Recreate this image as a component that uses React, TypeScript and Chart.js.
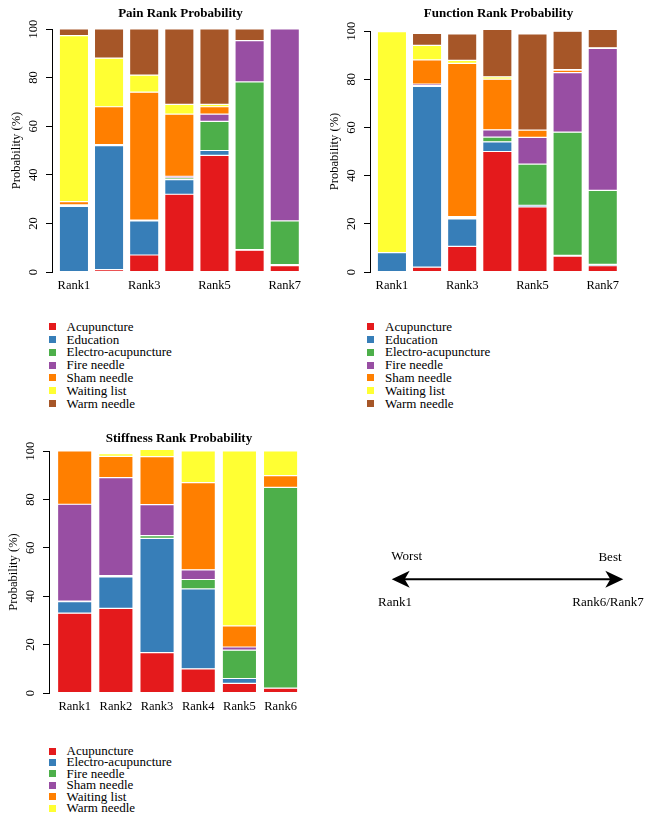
import React, { useEffect, useRef } from 'react';
import { Chart, registerables } from 'chart.js';

Chart.register(...registerables);

const FONT = '"Liberation Serif", "Times New Roman", serif';
const COLORS = ['#E41A1C', '#377EB8', '#4DAF4A', '#984EA3', '#FF7F00', '#FFFF33', '#A65628'];

const Y_TICKS = [0, 20, 40, 60, 80, 100];
const Y_TITLE = 'Probability (%)';

// ---------- Pain ----------
const PAIN_CATEGORIES = ['Rank1', 'Rank2', 'Rank3', 'Rank4', 'Rank5', 'Rank6', 'Rank7'];
const PAIN_TICK_LABELS = ['Rank1', '', 'Rank3', '', 'Rank5', '', 'Rank7'];
const PAIN_TREATMENTS = ['Acupuncture', 'Education', 'Electro-acupuncture', 'Fire needle', 'Sham needle', 'Waiting list', 'Warm needle'];
const PAIN_ACUPUNCTURE = [0, 1, 7, 32, 48, 9, 2.6];
const PAIN_EDUCATION = [27, 51, 14, 6, 2, 0.2, 0.4];
const PAIN_ELECTRO = [0.3, 0.2, 0.2, 0.7, 12, 69, 18];
const PAIN_FIRE = [0.3, 0.2, 0.2, 0.7, 3, 17, 79];
const PAIN_SHAM = [1.4, 15.6, 52.6, 25.6, 3, 0, 0];
const PAIN_WAITING = [68.3, 20, 7, 4, 1, 0, 0];
const PAIN_WARM = [2.7, 12, 19, 31, 31, 4.8, 0];

// ---------- Function ----------
const FUNC_CATEGORIES = ['Rank1', 'Rank2', 'Rank3', 'Rank4', 'Rank5', 'Rank6', 'Rank7'];
const FUNC_TICK_LABELS = ['Rank1', '', 'Rank3', '', 'Rank5', '', 'Rank7'];
const FUNC_TREATMENTS = ['Acupuncture', 'Education', 'Electro-acupuncture', 'Fire needle', 'Sham needle', 'Waiting list', 'Warm needle'];
const FUNC_ACUPUNCTURE = [0, 2, 10.6, 50, 27, 6.6, 2.6];
const FUNC_EDUCATION = [8, 75, 11.4, 4, 0.7, 0.3, 0.6];
const FUNC_ELECTRO = [0, 0.3, 0.5, 2, 17.1, 51.1, 30.7];
const FUNC_FIRE = [0, 0.7, 0.5, 3, 11.1, 24.7, 58.9];
const FUNC_SHAM = [0, 10, 63.6, 21, 3, 1.1, 0.2];
const FUNC_WAITING = [91.7, 6, 1.2, 1, 0, 0.2, 0];
const FUNC_WARM = [0, 5, 11, 19.7, 39.9, 15.9, 7.7];

// ---------- Stiffness ----------
const STIFF_CATEGORIES = ['Rank1', 'Rank2', 'Rank3', 'Rank4', 'Rank5', 'Rank6'];
const STIFF_TICK_LABELS = ['Rank1', 'Rank2', 'Rank3', 'Rank4', 'Rank5', 'Rank6'];
const STIFF_TREATMENTS = ['Acupuncture', 'Electro-acupuncture', 'Fire needle', 'Sham needle', 'Waiting list', 'Warm needle'];
const STIFF_ACUPUNCTURE = [33, 35, 16.7, 10, 4, 2];
const STIFF_ELECTRO = [4.7, 13, 47.2, 33, 2, 0];
const STIFF_FIRE = [0.3, 0.5, 1.1, 3.9, 11.7, 83];
const STIFF_SHAM = [40, 40.5, 12.8, 4, 1.3, 0];
const STIFF_WAITING = [22, 8.8, 19.9, 36, 8.7, 4.8];
const STIFF_WARM = [0, 1.1, 3, 13.1, 72.3, 10.2];

const ARROW_LEFT_LABEL = 'Worst';
const ARROW_RIGHT_LABEL = 'Best';
const ARROW_LEFT_RANK = 'Rank1';
const ARROW_RIGHT_RANK = 'Rank6/Rank7';

type RankChartProps = {
  title: string;
  categories: string[];
  tickLabels: string[];
  treatments: string[];
  values: number[][];
  left: number;
  top: number;
  width: number;
  height: number;
  pad: { left: number; top: number; right: number; bottom: number };
  titleY: number;
};

function RankChart(props: RankChartProps) {
  const ref = useRef<HTMLCanvasElement | null>(null);
  useEffect(() => {
    const canvas = ref.current;
    if (!canvas) return;
    const n = props.categories.length;
    const rText = {
      id: 'rText',
      afterDraw(chart: any) {
        const { ctx, chartArea, scales } = chart;
        const y = scales.y;
        const x = scales.x;
        ctx.save();
        ctx.fillStyle = '#000';
        ctx.textAlign = 'center';
        ctx.textBaseline = 'middle';
        ctx.font = `12.5px ${FONT}`;
        for (const v of Y_TICKS) {
          const py = y.getPixelForValue(v);
          ctx.save();
          ctx.translate(chartArea.left - 18.5, py);
          ctx.rotate(-Math.PI / 2);
          ctx.fillText(String(v), 0, 0);
          ctx.restore();
        }
        props.tickLabels.forEach((lab, i) => {
          if (lab) ctx.fillText(lab, x.getPixelForValue(i), chartArea.bottom + 13.5);
        });
        ctx.save();
        ctx.translate(chartArea.left - 35, (chartArea.top + chartArea.bottom) / 2);
        ctx.rotate(-Math.PI / 2);
        ctx.fillText(Y_TITLE, 0, 0);
        ctx.restore();
        ctx.font = `bold 13px ${FONT}`;
        ctx.fillText(props.title, (chartArea.left + chartArea.right) / 2, props.titleY);
        ctx.restore();
      },
    };
    const chart = new Chart(canvas, {
      type: 'bar',
      data: {
        datasets: props.treatments.map((name, si) => ({
          label: name,
          data: props.values[si].map((v, i) => ({ x: i, y: v })),
          backgroundColor: COLORS[si],
          borderColor: '#ffffff',
          borderWidth: 0.6,
          borderSkipped: false,
          categoryPercentage: 1,
          barPercentage: 1 / 1.2,
          clip: false as any,
        })),
      },
      options: {
        responsive: false,
        animation: false,
        devicePixelRatio: 1,
        layout: { padding: props.pad },
        plugins: { legend: { display: false }, tooltip: { enabled: false }, title: { display: false } },
        scales: {
          x: {
            type: 'linear',
            stacked: true,
            offset: false,
            min: -0.624,
            max: n - 1 + 0.69,
            grid: { display: false, drawTicks: false, offset: false },
            border: { display: false },
            ticks: { display: false },
            afterFit: (s: any) => {
              s.height = 0;
            },
          },
          y: {
            type: 'linear',
            stacked: true,
            min: 0,
            max: 100,
            ticks: { display: false, stepSize: 20 },
            grid: { drawOnChartArea: false, drawTicks: true, tickLength: 6, color: '#000', lineWidth: 1 },
            border: { display: true, color: '#000', width: 1 },
            afterFit: (s: any) => {
              s.width = 0;
            },
          },
        },
      } as any,
      plugins: [rText],
    });
    return () => chart.destroy();
  }, []);
  return (
    <canvas
      ref={ref}
      width={props.width}
      height={props.height}
      style={{ position: 'absolute', left: props.left, top: props.top, width: props.width, height: props.height }}
    />
  );
}

function Legend(props: { names: string[]; left: number; top: number; step: number }) {
  return (
    <>
      {props.names.map((name, i) => (
        <div
          key={name}
          style={{
            position: 'absolute',
            left: props.left,
            top: props.top + i * props.step - 8,
            height: 16,
            display: 'flex',
            alignItems: 'center',
            font: `13px ${FONT}`,
            color: '#000',
            whiteSpace: 'nowrap',
          }}
        >
          <span style={{ display: 'inline-block', width: 7, height: 7, background: COLORS[i], marginRight: 11 }} />
          <span>{name}</span>
        </div>
      ))}
    </>
  );
}

function ArrowDiagram() {
  const y = 579.3;
  const x1 = 391.7;
  const x2 = 623.3;
  return (
    <svg width={654} height={820} style={{ position: 'absolute', left: 0, top: 0 }}>
      <line x1={x1 + 10} y1={y} x2={x2 - 10} y2={y} stroke="#000" strokeWidth={2} />
      <path d={`M${x1},${y} L${x1 + 18},${y - 8.5} L${x1 + 13},${y} L${x1 + 18},${y + 8.5} Z`} fill="#000" />
      <path d={`M${x2},${y} L${x2 - 18},${y - 8.5} L${x2 - 13},${y} L${x2 - 18},${y + 8.5} Z`} fill="#000" />
      <g fontFamily={FONT} fontSize={13} fill="#000" textAnchor="middle" dominantBaseline="central">
        <text x={406.7} y={555}>{ARROW_LEFT_LABEL}</text>
        <text x={610} y={556.5}>{ARROW_RIGHT_LABEL}</text>
        <text x={395} y={601.7}>{ARROW_LEFT_RANK}</text>
        <text x={608} y={601.7}>{ARROW_RIGHT_RANK}</text>
      </g>
    </svg>
  );
}

export default function App() {
  return (
    <div style={{ position: 'absolute', left: 0, top: 0, width: 654, height: 820, overflow: 'hidden', background: '#fff' }}>
      <RankChart
        title="Pain Rank Probability"
        categories={PAIN_CATEGORIES}
        tickLabels={PAIN_TICK_LABELS}
        treatments={PAIN_TREATMENTS}
        values={[PAIN_ACUPUNCTURE, PAIN_EDUCATION, PAIN_ELECTRO, PAIN_FIRE, PAIN_SHAM, PAIN_WAITING, PAIN_WARM]}
        left={0}
        top={0}
        width={330}
        height={300}
        pad={{ left: 52, top: 29, right: 21, bottom: 28 }}
        titleY={13.5}
      />
      <RankChart
        title="Function Rank Probability"
        categories={FUNC_CATEGORIES}
        tickLabels={FUNC_TICK_LABELS}
        treatments={FUNC_TREATMENTS}
        values={[FUNC_ACUPUNCTURE, FUNC_EDUCATION, FUNC_ELECTRO, FUNC_FIRE, FUNC_SHAM, FUNC_WAITING, FUNC_WARM]}
        left={330}
        top={0}
        width={324}
        height={300}
        pad={{ left: 40, top: 31, right: 27, bottom: 28 }}
        titleY={14}
      />
      <RankChart
        title="Stiffness Rank Probability"
        categories={STIFF_CATEGORIES}
        tickLabels={STIFF_TICK_LABELS}
        treatments={STIFF_TREATMENTS}
        values={[STIFF_ACUPUNCTURE, STIFF_ELECTRO, STIFF_FIRE, STIFF_SHAM, STIFF_WAITING, STIFF_WARM]}
        left={0}
        top={420}
        width={330}
        height={300}
        pad={{ left: 49, top: 31, right: 21, bottom: 27 }}
        titleY={19}
      />
      <Legend names={PAIN_TREATMENTS} left={48.5} top={326.7} step={12.8} />
      <Legend names={FUNC_TREATMENTS} left={367} top={326.7} step={12.8} />
      <Legend names={STIFF_TREATMENTS} left={48.5} top={751} step={11.4} />
      <ArrowDiagram />
    </div>
  );
}
